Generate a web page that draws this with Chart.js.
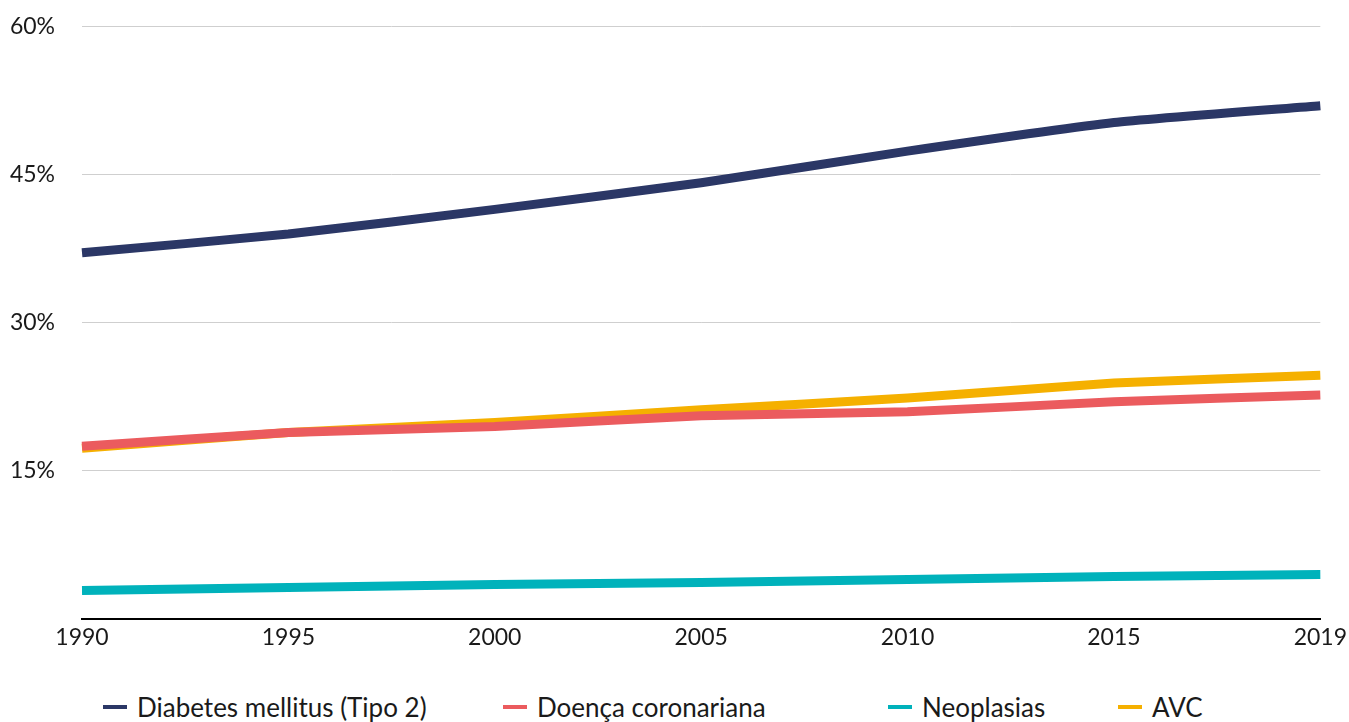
<!DOCTYPE html>
<html lang="pt">
<head>
<meta charset="utf-8">
<script src="https://cdn.jsdelivr.net/npm/chart.js@4/dist/chart.umd.min.js"></script>
<style>
    html, body { margin: 0; padding: 0; background: #fff; }
    body { width: 1349px; height: 722px; position: relative; overflow: hidden; font-family: Lato, 'Open Sans', sans-serif; }
    #wrap { position: absolute; left: 0; top: -14px; width: 1352px; height: 676px; }
    #legend { position: absolute; left: 0; top: 691px; width: 1349px; height: 32px; }
    .item { position: absolute; top: 0; display: flex; align-items: center; font-size: 26px; color: #1a1a1a; white-space: nowrap; }
    .item i { display: inline-block; width: 24px; height: 4px; margin-right: 10px; }
</style>
</head>
<body>
<div id="wrap"><canvas id="grafico"></canvas></div>
<div id="legend"></div>
<script>
// Dados (% por ano)
const anos = ['1990', '1995', '2000', '2005', '2010', '2015', '2019'];
const diabetes = [37.1, 39.0, 41.5, 44.2, 47.4, 50.3, 52.0];
const coronariana = [17.5, 18.9, 19.5, 20.6, 21.0, 22.0, 22.7];
const neoplasias = [2.9, 3.2, 3.5, 3.7, 4.0, 4.3, 4.5];
const avc = [17.3, 18.9, 19.9, 21.2, 22.4, 23.9, 24.7];
const yTicks = [0, 15, 30, 45, 60];

const series = [
    { label: 'Diabetes mellitus (Tipo 2)', data: diabetes, color: '#2b3766' },
    { label: 'Doença coronariana', data: coronariana, color: '#eb5b5e' },
    { label: 'Neoplasias', data: neoplasias, color: '#00b2bb' },
    { label: 'AVC', data: avc, color: '#f5b000' }
];

// posições horizontais da legenda (como no original)
const legendLeft = [103, 503, 888, 1118];

const ctx = document.getElementById('grafico');
new Chart(ctx, {
    type: 'line',
    data: {
        labels: anos,
        datasets: series.map(s => ({
            label: s.label,
            data: s.data,
            borderColor: s.color,
            backgroundColor: s.color,
            borderWidth: 9,
            borderCapStyle: 'butt',
            pointRadius: 0,
            tension: 0.15,
            fill: false
        }))
    },
    options: {
        responsive: true,
        maintainAspectRatio: false,
        animation: false,
        layout: { padding: { top: 12, right: 26, left: 0, bottom: 0 } },
        plugins: { legend: { display: false }, tooltip: { enabled: false } },
        scales: {
            x: {
                offset: false,
                grid: { display: false, drawTicks: false },
                border: { display: true, color: '#000', width: 2 },
                ticks: { color: '#1a1a1a', padding: 5, maxRotation: 0, autoSkip: false, font: { family: 'Lato', size: 23 } },
                afterFit: scale => { scale.height = 43; }
            },
            y: {
                min: 0,
                max: 60,
                afterBuildTicks: scale => { scale.ticks = yTicks.map(v => ({ value: v })); },
                grid: { color: '#cfcfcf', lineWidth: 1, drawTicks: false },
                border: { display: false },
                ticks: {
                    color: '#1a1a1a',
                    padding: 27,
                    font: { family: 'Lato', size: 23 },
                    callback: v => v === 0 ? '' : v + '%'
                },
                afterFit: scale => { scale.width = 82; }
            }
        }
    }
});

// Legenda em HTML
const legend = document.getElementById('legend');
legend.innerHTML = series.map((s, i) => `
    <div class="item" style="left:${legendLeft[i]}px"><i style="background:${s.color}"></i>${s.label}</div>
`).join('');
</script>
</body>
</html>
